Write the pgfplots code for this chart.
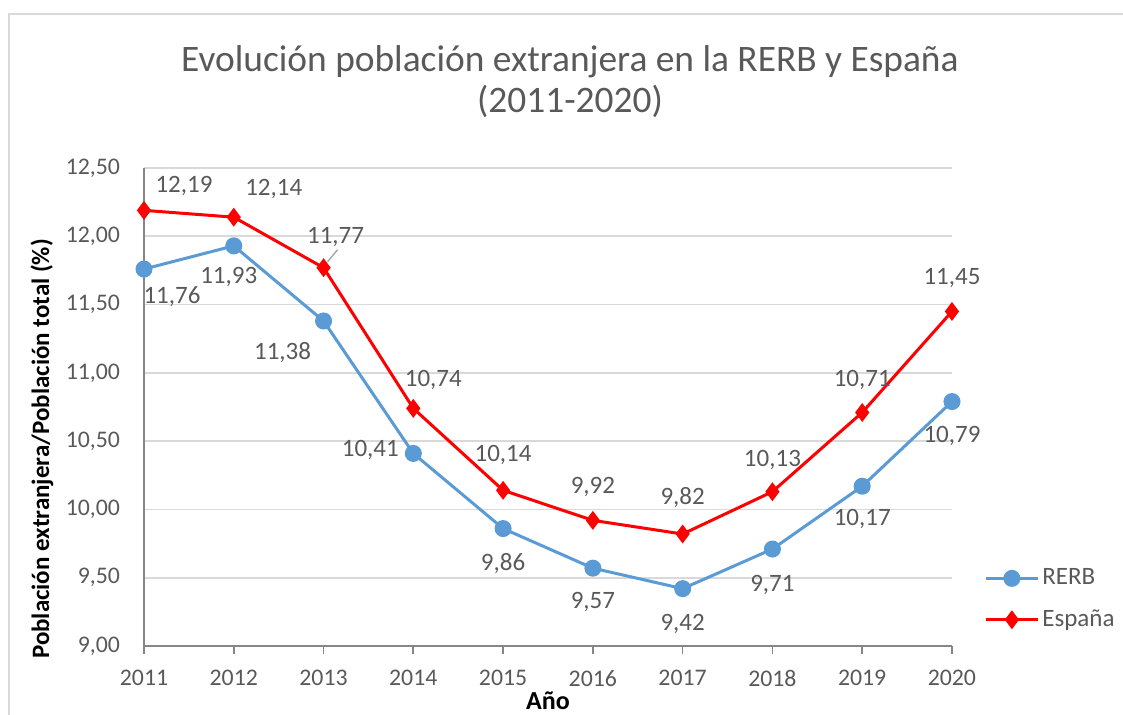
\documentclass[border=0pt]{standalone}
\usepackage{pgfplots}
\pgfplotsset{compat=1.18}
\usepackage{pgfplotstable}
\usepackage{fontspec}
\setmainfont{Carlito}
\definecolor{txt}{HTML}{595959}
\definecolor{gridc}{HTML}{D9D9D9}
\definecolor{axc}{HTML}{868686}
\definecolor{rerb}{HTML}{5B9BD5}
\definecolor{esp}{HTML}{FF0000}

% year, value, label offsets (pt)
\pgfplotstableread{
x    y     dx    dy
2011 11.76 14    -14
2012 11.93 -2.5  -15.5
2013 11.38 -20.5 -16
2014 10.41 -21.5 1.5
2015 9.86  0     -17.5
2016 9.57  0     -17
2017 9.42  0     -17.5
2018 9.71  0     -18
2019 10.17 0     -16.5
2020 10.79 0     -17
}\rerbdata
\pgfplotstableread{
x    y     dx    dy
2011 12.19 20    12
2012 12.14 20    14
2013 11.77 6     15.5
2014 10.74 10    14
2015 10.14 0     17.5
2016 9.92  0     16.5
2017 9.82  0     18
2018 10.13 0     16
2019 10.71 0     16
2020 11.45 0     16.5
}\espdata

\begin{document}
\begin{tikzpicture}
\useasboundingbox (-72pt,-34pt) rectangle (489.5pt,323pt);
\draw[gridc, line width=1pt] (-67.5pt,-40pt) -- (-67.5pt,316pt) -- (495pt,316pt);
\begin{axis}[
    scale only axis,
    width=404pt,
    height=239pt,
    xmin=2011, xmax=2020,
    ymin=9, ymax=12.5,
    xtick={2011,2012,...,2020},
    ytick={9,9.5,...,12.5},
    xticklabel style={/pgf/number format/1000 sep={}, /tikz/text=txt, /tikz/yshift=-4.5pt},
    yticklabel style={/pgf/number format/fixed, /pgf/number format/fixed zerofill,
        /pgf/number format/precision=2, /pgf/number format/use comma,
        /tikz/text=txt, /tikz/xshift=-4.5pt},
    /pgf/number format/assume math mode=true,
    tick label style={font=\fontsize{11.9}{13}\selectfont},
    axis x line*=bottom,
    axis y line*=left,
    axis line style={axc, line width=1pt},
    x axis line style={-},
    y axis line style={-},
    ytick style={draw=none},
    xtick style={axc, line width=0.8pt},
    tick align=outside,
    major tick length=4pt,
    ymajorgrids,
    grid style={gridc, line width=0.8pt},
    xlabel={\textbf{Año}},
    ylabel={\textbf{Población extranjera/Población total (\%)}},
    xlabel style={font=\fontsize{13}{15}\selectfont, at={(rel axis cs:0.5,0)}, anchor=center, yshift=-27.5pt},
    ylabel style={font=\fontsize{12.5}{15}\selectfont, at={(rel axis cs:0,0.5)}, anchor=center, xshift=-21pt, yshift=51pt},
    clip=false,
    nodes near coords,
    point meta=explicit,
    nodes near coords style={
        /pgf/number format/fixed, /pgf/number format/fixed zerofill,
        /pgf/number format/precision=2, /pgf/number format/use comma,
        /tikz/text=txt, /tikz/anchor=center, /tikz/font=\fontsize{12.5}{14}\selectfont,
        /tikz/xshift=\dx pt, /tikz/yshift=\dy pt},
    visualization depends on={\thisrow{dx} \as \dx},
    visualization depends on={\thisrow{dy} \as \dy},
    legend style={draw=none, fill=none, at={(rel axis cs:1,0)}, anchor=south west,
        xshift=16pt, yshift=6pt, font=\fontsize{12.5}{14}\selectfont, text=txt,
        row sep=7pt, inner sep=0pt,
        nodes={inner xsep=1.5pt}},
    legend cell align=left,
    legend image code/.code={
        \draw[mark repeat=2, mark phase=2, #1] plot coordinates {(0pt,0pt) (13pt,0pt) (26pt,0pt)};
    },
]
\addplot[rerb, line width=1.5pt, mark=*, mark size=3.5pt, mark options={fill=rerb, draw=rerb}]
    table[x=x, y=y, meta=y] {\rerbdata};
\addlegendentry{RERB}
\addplot[esp, line width=1.5pt, mark=diamond*, mark size=3.5pt, mark options={fill=esp, draw=esp}]
    table[x=x, y=y, meta=y] {\espdata};
\addlegendentry{España}
\draw[gray!70, line width=0.7pt] (axis cs:2013,11.77) ++(2pt,3pt) -- ++(5pt,6pt);
\end{axis}
\node[text=txt, align=center, font=\fontsize{18.7}{20.5}\selectfont] at (213pt,282pt)
    {Evolución población extranjera en la RERB y España\\(2011-2020)};
\end{tikzpicture}
\end{document}
